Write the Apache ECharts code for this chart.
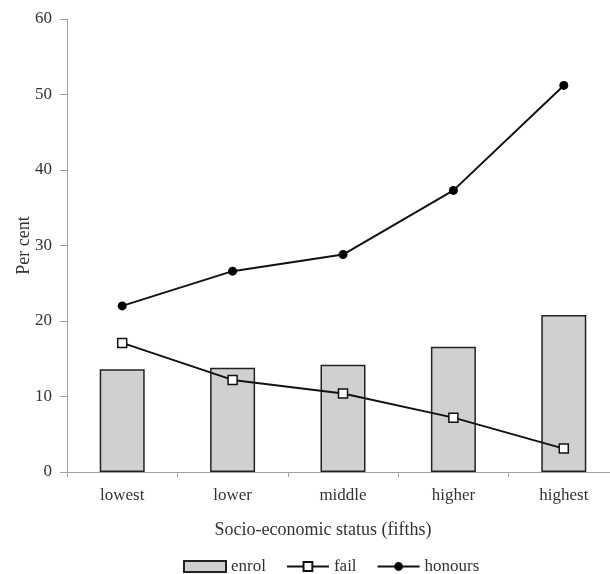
<!DOCTYPE html>
<html><head><meta charset="utf-8">
<script src="https://cdn.jsdelivr.net/npm/echarts@6/dist/echarts.min.js"></script>
<style>html,body{margin:0;padding:0;background:#fff}#c{width:610px;height:574px}</style>
</head><body><div id="c"></div>
<script>
const categories = ['lowest', 'lower', 'middle', 'higher', 'highest'];
const enrol = [13.6, 13.8, 14.2, 16.6, 20.8];
const fail = [17.1, 12.2, 10.4, 7.2, 3.1];
const honours = [22.0, 26.6, 28.8, 37.3, 51.2];
const yTicks = [0, 10, 20, 30, 40, 50, 60];

const font = '"Liberation Serif", "DejaVu Serif", serif';
const txt = '#333';
const axisCol = '#a0a0a0';
const chart = echarts.init(document.getElementById('c'));
chart.setOption({
  animation: false,
  textStyle: { fontFamily: font },
  title: {
    text: 'Socio-economic status (fifths)',
    left: 318, top: 516, textAlign: 'center',
    textStyle: { fontFamily: font, fontSize: 18, fontWeight: 'normal', color: txt }
  },
  legend: {
    top: 553, left: 178, itemGap: 20, itemWidth: 42, itemHeight: 11,
    textStyle: { fontFamily: font, fontSize: 17, color: txt },
    data: [
      { name: 'enrol', icon: 'rect' },
      { name: 'fail' },
      { name: 'honours' }
    ]
  },
  grid: { left: 67, width: 552, top: 19, bottom: 102, outerBoundsMode: 'none', containLabel: false },
  xAxis: {
    type: 'category', data: categories,
    axisLine: { lineStyle: { color: axisCol, width: 1 } },
    axisTick: { show: true, alignWithLabel: false, length: 5, lineStyle: { color: axisCol } },
    axisLabel: { color: txt, fontSize: 17, fontFamily: font, margin: 15 }
  },
  yAxis: {
    type: 'value', min: yTicks[0], max: yTicks[yTicks.length - 1], interval: 10,
    name: 'Per cent', nameLocation: 'middle', nameGap: 34, nameRotate: 90,
    nameMoveOverlap: false,
    nameTextStyle: { color: txt, fontSize: 18, fontFamily: font },
    axisLine: { show: true, lineStyle: { color: axisCol, width: 1 } },
    axisTick: { show: true, length: 7, lineStyle: { color: axisCol } },
    splitLine: { show: false },
    axisLabel: { color: txt, fontSize: 17, fontFamily: font, margin: 15 }
  },
  series: [
    {
      name: 'enrol', type: 'bar', data: enrol, barWidth: 45,
      itemStyle: { color: '#d0d0d0', borderColor: '#222', borderWidth: 1.5 }
    },
    {
      name: 'fail', type: 'line', data: fail,
      symbol: 'rect', symbolSize: 9,
      lineStyle: { color: '#111', width: 2 },
      itemStyle: { color: '#fff', borderColor: '#111', borderWidth: 1.5 }
    },
    {
      name: 'honours', type: 'line', data: honours,
      symbol: 'circle', symbolSize: 9,
      lineStyle: { color: '#111', width: 2 },
      itemStyle: { color: '#000', borderColor: '#000', borderWidth: 0 }
    }
  ]
});
</script></body></html>
